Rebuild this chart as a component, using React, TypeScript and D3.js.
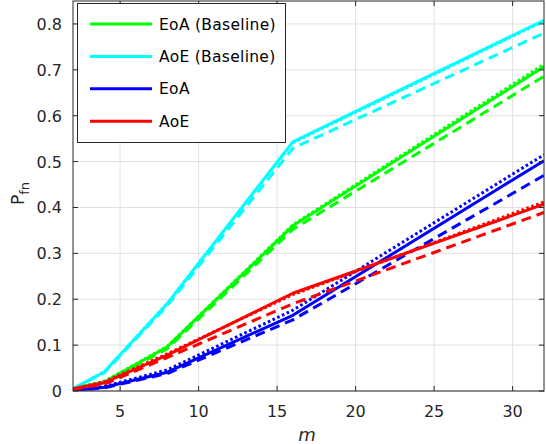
import React from "react";
import * as d3 from "d3";

const mValues = [2, 4, 8, 16, 32];

const seriesNames = ["EoA (Baseline)", "AoE (Baseline)", "EoA", "AoE"];
const seriesColors = ["#00ff00", "#00ffff", "#0000ff", "#ff0000"];

// solid / dashed / dotted variants per series
const eoaBaseSolid = [0.005, 0.02, 0.096, 0.36, 0.707];
const eoaBaseDashed = [0.004, 0.018, 0.092, 0.352, 0.686];
const eoaBaseDotted = [0.005, 0.021, 0.097, 0.362, 0.712];

const aoeBaseSolid = [0.005, 0.042, 0.19, 0.543, 0.808];
const aoeBaseDashed = [0.005, 0.04, 0.186, 0.529, 0.78];
const aoeBaseDotted = [0.005, 0.042, 0.191, 0.541, 0.806];

const eoaSolid = [0.001, 0.008, 0.041, 0.165, 0.502];
const eoaDashed = [0.001, 0.007, 0.038, 0.155, 0.47];
const eoaDotted = [0.002, 0.01, 0.046, 0.176, 0.515];

const aoeSolid = [0.005, 0.018, 0.078, 0.213, 0.407];
const aoeDashed = [0.003, 0.015, 0.073, 0.19, 0.389];
const aoeDotted = [0.005, 0.02, 0.081, 0.21, 0.412];

const xTicks = [5, 10, 15, 20, 25, 30];
const yTicks = [0, 0.1, 0.2, 0.3, 0.4, 0.5, 0.6, 0.7, 0.8];

const W = 546;
const H = 444;
const left = 73;
const right = 544;
const top = 1;
const bottom = 391;

export default function App() {
  const x = d3.scaleLinear().domain([2, 32]).range([left, right]);
  const y = d3.scaleLinear().domain([0, 0.85]).range([bottom, top]);
  const line = d3
    .line<number>()
    .x((_, i) => x(mValues[i]))
    .y((d) => y(d));

  const groups = [
    [eoaBaseSolid, eoaBaseDashed, eoaBaseDotted],
    [aoeBaseSolid, aoeBaseDashed, aoeBaseDotted],
    [eoaSolid, eoaDashed, eoaDotted],
    [aoeSolid, aoeDashed, aoeDotted],
  ];
  const styles = [
    { dash: undefined as string | undefined },
    { dash: "10 6" },
    { dash: "2.6 2.6" },
  ];

  const axisColor = "#262626";
  const gridColor = "#e0e0e0";
  const font = "DejaVu Sans, sans-serif";

  return (
    <svg
      width={W}
      height={H}
      style={{ position: "fixed", left: 0, top: 0, background: "#fff" }}
      fontFamily={font}
    >
      <rect x={0} y={0} width={W} height={H} fill="#fff" />
      {/* grid */}
      {xTicks.map((t) => (
        <line key={"gx" + t} x1={x(t)} x2={x(t)} y1={top} y2={bottom} stroke={gridColor} strokeWidth={1} />
      ))}
      {yTicks.map((t) => (
        <line key={"gy" + t} x1={left} x2={right} y1={y(t)} y2={y(t)} stroke={gridColor} strokeWidth={1} />
      ))}
      {/* data */}
      <g clipPath="url(#clip)">
        {groups.map((g, gi) =>
          [2, 1, 0].map((si) => (
            <path
              key={gi + "-" + si}
              d={line(g[si]) || ""}
              fill="none"
              stroke={seriesColors[gi]}
              strokeWidth={3}
              strokeDasharray={styles[si].dash}
              strokeLinejoin="round"
            />
          ))
        )}
      </g>
      <defs>
        <clipPath id="clip">
          <rect x={left} y={top} width={right - left} height={bottom - top} />
        </clipPath>
      </defs>
      {/* axes box */}
      <rect x={left} y={top} width={right - left} height={bottom - top} fill="none" stroke={axisColor} strokeWidth={1} />
      {xTicks.map((t) => (
        <g key={"tx" + t}>
          <line x1={x(t)} x2={x(t)} y1={bottom} y2={bottom - 5} stroke={axisColor} />
          <line x1={x(t)} x2={x(t)} y1={top} y2={top + 5} stroke={axisColor} />
          <text x={x(t)} y={417} textAnchor="middle" fontSize={16} fill={axisColor}>
            {t}
          </text>
        </g>
      ))}
      {yTicks.map((t) => (
        <g key={"ty" + t}>
          <line x1={left} x2={left + 5} y1={y(t)} y2={y(t)} stroke={axisColor} />
          <line x1={right} x2={right - 5} y1={y(t)} y2={y(t)} stroke={axisColor} />
          <text x={62} y={y(t) + 6} textAnchor="end" fontSize={16} fill={axisColor}>
            {t === 0 ? "0" : d3.format(".1f")(t)}
          </text>
        </g>
      ))}
      {/* axis labels */}
      <text x={307} y={441} textAnchor="middle" fontSize={18} fontStyle="italic" fill={axisColor}>
        m
      </text>
      <text transform="translate(24,205) rotate(-90)" fontSize={17} fill={axisColor}>
        P
        <tspan dy={5} fontSize={13}>
          fn
        </tspan>
      </text>
      {/* legend */}
      <rect x={77.5} y={3.5} width={208} height={139} fill="#fff" stroke={axisColor} strokeWidth={1} />
      {seriesNames.map((n, i) => {
        const ly = 24 + i * 32.4;
        return (
          <g key={n}>
            <line x1={90} x2={152} y1={ly} y2={ly} stroke={seriesColors[i]} strokeWidth={3} />
            <text x={159} y={ly + 5.5} fontSize={15.5} fill="#000" letterSpacing={0.3}>
              {n}
            </text>
          </g>
        );
      })}
    </svg>
  );
}
